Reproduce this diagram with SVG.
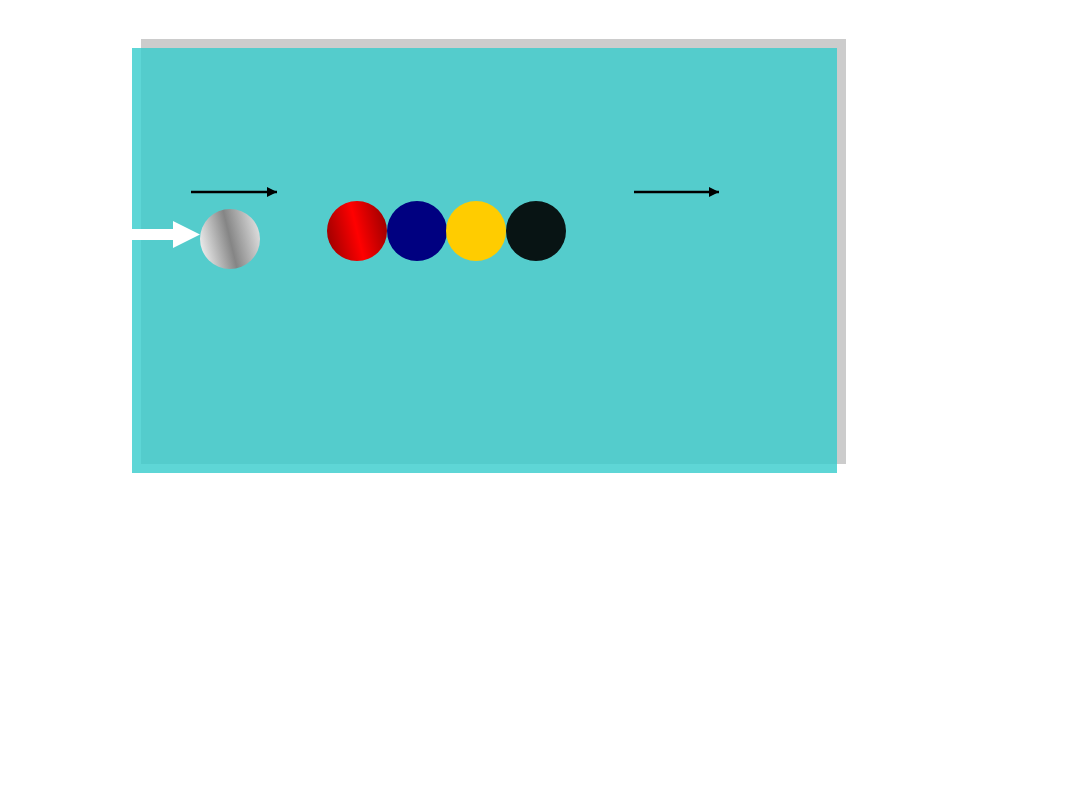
<svg xmlns="http://www.w3.org/2000/svg" width="1080" height="810" viewBox="0 0 1080 810">
<defs>
<linearGradient id="silver" x1="0" y1="0.62" x2="1" y2="0.38">
<stop offset="0" stop-color="#ececec"/>
<stop offset="0.5" stop-color="#858585"/>
<stop offset="1" stop-color="#dedede"/>
</linearGradient>
<linearGradient id="redg" x1="0" y1="0.62" x2="1" y2="0.38">
<stop offset="0" stop-color="#a00000"/>
<stop offset="0.5" stop-color="#ff0000"/>
<stop offset="1" stop-color="#a00000"/>
</linearGradient>
<marker id="ah" viewBox="0 0 10 10" refX="10" refY="5" markerWidth="4" markerHeight="4" orient="auto" markerUnits="strokeWidth">
<path d="M0,0 L10,5 L0,10 z" fill="#000"/>
</marker>
<style>
.conn{stroke:#000;stroke-width:2.5;fill:none}
</style>
</defs>
<rect width="1080" height="810" fill="#fff"/>
<g id="panel">
<rect x="141" y="39" width="705" height="425" fill="#cccccc"/>
<rect x="132" y="48" width="705" height="425" fill="#36cccc" fill-opacity="0.8"/>
</g>
<g id="connectors">
<line class="conn" x1="191" y1="192" x2="277" y2="192" marker-end="url(#ah)"/>
<line class="conn" x1="634" y1="192" x2="719" y2="192" marker-end="url(#ah)"/>
<path d="M132,229 L173,229 L173,221 L200,234.5 L173,248 L173,240 L132,240 z" fill="#fff"/>
</g>
<g id="ball-silver"><circle cx="230" cy="239" r="30" fill="url(#silver)"/></g>
<g id="ball-red"><circle cx="357" cy="231" r="30" fill="url(#redg)"/></g>
<g id="ball-blue"><circle cx="417" cy="231" r="30" fill="#000080"/></g>
<g id="ball-yellow"><circle cx="476" cy="231" r="30" fill="#ffcc00"/></g>
<g id="ball-black"><circle cx="536" cy="231" r="30" fill="#081414"/></g>
</svg>
